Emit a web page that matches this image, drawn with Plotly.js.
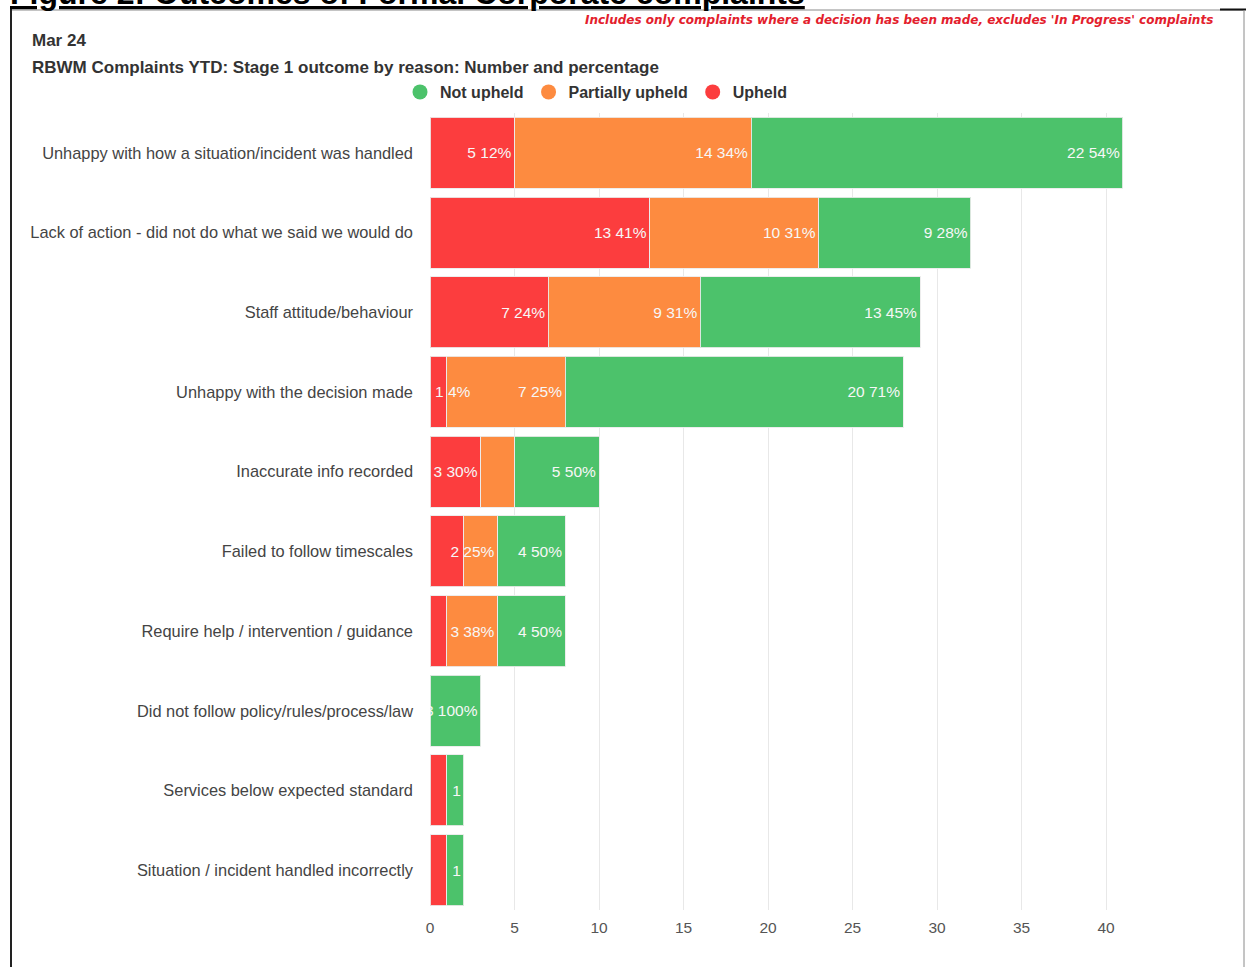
<!DOCTYPE html>
<html>
<head>
<meta charset="utf-8">
<script src="https://cdn.plot.ly/plotly-3.0.1.min.js"></script>
<style>
  html, body { margin: 0; padding: 0; background: #ffffff; }
  #chart { width: 1246px; height: 967px; }
</style>
</head>
<body>
<div id="chart"></div>
<script>
// ---------- data ----------
const categories = [
  "Unhappy with how a situation/incident was handled",
  "Lack of action - did not do what we said we would do",
  "Staff attitude/behaviour",
  "Unhappy with the decision made",
  "Inaccurate info recorded",
  "Failed to follow timescales",
  "Require help / intervention / guidance",
  "Did not follow policy/rules/process/law",
  "Services below expected standard",
  "Situation / incident handled incorrectly"
];
const upheld          = [5, 13, 7, 1, 3, 2, 1, 0, 1, 1];
const partiallyUpheld = [14, 10, 9, 7, 2, 2, 3, 0, 0, 0];
const notUpheld       = [22, 9, 13, 20, 5, 4, 4, 3, 1, 1];

const upheldLabels    = ["5 12%", "13 41%", "7 24%", "", "3 30%", "", "", "", "", ""];
const partialLabels   = ["14 34%", "10 31%", "9 31%", "7 25%", "", "2 25%", "3 38%", "", "", ""];
const notUpheldLabels = ["22 54%", "9 28%", "13 45%", "20 71%", "5 50%", "4 50%", "4 50%", "3 100%", "1", "1"];
const overflowLabel   = {category: "Unhappy with the decision made", text: "1 4%"};

const xTicks = [0, 5, 10, 15, 20, 25, 30, 35, 40];

const figureHeading = "Figure 2: Outcomes of Formal Corporate complaints";
const noteText = "Includes only complaints where a decision has been made, excludes 'In Progress' complaints";
const periodText = "Mar 24";
const chartTitle = "RBWM Complaints YTD: Stage 1 outcome by reason: Number and percentage";

// ---------- styling ----------
const COLORS = {"Upheld": "#fc3d3e", "Partially upheld": "#fd8b40", "Not upheld": "#4cc26b"};
const FONT = "'Liberation Sans', Arial, sans-serif";
const W = 1246, H = 967;
const M = {l: 430, r: 98, t: 113, b: 57};
const PW = W - M.l - M.r, PH = H - M.t - M.b;
const xp = px => (px - M.l) / PW;
const yp = py => (H - M.b - py) / PH;

function barTrace(name, values, labels) {
  return {
    type: 'bar', orientation: 'h', name: name,
    y: categories, x: values,
    text: labels, textposition: 'inside', insidetextanchor: 'end',
    textfont: {family: FONT, size: 15.5, color: '#f7f7f7'},
    textangle: 0, constraintext: 'none',
    marker: {color: COLORS[name], line: {color: 'rgba(235,235,235,0.9)', width: 1}},
    showlegend: false, hoverinfo: 'x+y+name'
  };
}
function legendTrace(name) {
  return {
    type: 'scatter', mode: 'markers', name: name,
    x: [null], y: [null],
    marker: {color: COLORS[name], size: 15, symbol: 'circle'},
    showlegend: true
  };
}

const data = [
  barTrace("Upheld", upheld, upheldLabels),
  barTrace("Partially upheld", partiallyUpheld, partialLabels),
  barTrace("Not upheld", notUpheld, notUpheldLabels),
  legendTrace("Not upheld"),
  legendTrace("Partially upheld"),
  legendTrace("Upheld")
];

const layout = {
  width: W, height: H,
  margin: M,
  paper_bgcolor: '#ffffff', plot_bgcolor: '#ffffff',
  barmode: 'stack', bargap: 0.11,
  font: {family: FONT, size: 15, color: '#444'},
  uniformtext: {mode: 'show', minsize: 15.5},
  xaxis: {
    range: [0, PW / 16.9], tickvals: xTicks, ticktext: xTicks.map(String),
    showgrid: true, gridcolor: '#e8e8e8', gridwidth: 1,
    zeroline: false, showline: false, ticks: '', ticklabelstandoff: 6,
    tickfont: {family: FONT, size: 15.5, color: '#555'}, fixedrange: true
  },
  yaxis: {
    type: 'category', categoryorder: 'array', categoryarray: categories,
    autorange: 'reversed', showgrid: false, zeroline: false, showline: false,
    ticks: '', ticklabelstandoff: 16,
    tickfont: {family: FONT, size: 16.4, color: '#444'}, fixedrange: true
  },
  legend: {
    orientation: 'h', x: xp(596), xanchor: 'center', y: yp(92), yanchor: 'middle',
    font: {family: FONT, size: 16, color: '#333', weight: 'bold'},
    bgcolor: 'rgba(0,0,0,0)', traceorder: 'normal', itemwidth: 30
  },
  annotations: [
    {xref: 'paper', yref: 'paper', x: xp(8), y: yp(-7), xanchor: 'left', yanchor: 'middle',
     text: '<u>' + figureHeading + '</u>', showarrow: false,
     font: {family: FONT, size: 32, color: '#000', weight: 'bold'}},
    {xref: 'paper', yref: 'paper', x: xp(1215), y: yp(20), xanchor: 'right', yanchor: 'middle',
     text: '<b><i>' + noteText + '</i></b>', showarrow: false,
     font: {family: "'DejaVu Sans', Verdana, sans-serif", size: 12, color: '#e3202c'}},
    {xref: 'paper', yref: 'paper', x: xp(30), y: yp(41), xanchor: 'left', yanchor: 'middle',
     text: '<b>' + periodText + '</b>', showarrow: false,
     font: {family: FONT, size: 17, color: '#333'}},
    {xref: 'paper', yref: 'paper', x: xp(30), y: yp(67), xanchor: 'left', yanchor: 'middle',
     text: '<b>' + chartTitle + '</b>', showarrow: false,
     font: {family: FONT, size: 17, color: '#333'}},
    {xref: 'x', yref: 'y', x: 0, y: overflowLabel.category, xanchor: 'left', yanchor: 'middle',
     xshift: 3, text: overflowLabel.text, showarrow: false,
     font: {family: FONT, size: 15.5, color: '#f7f7f7'}}
  ],
  shapes: [
    {type: 'line', xref: 'paper', yref: 'paper', x0: xp(10), x1: xp(1244), y0: yp(10), y1: yp(10),
     line: {color: '#8a8a8a', width: 1}},
    {type: 'line', xref: 'paper', yref: 'paper', x0: xp(1220), x1: xp(1246), y0: yp(9.5), y1: yp(9.5),
     line: {color: '#111', width: 2}},
    {type: 'line', xref: 'paper', yref: 'paper', x0: xp(11), x1: xp(11), y0: yp(9), y1: yp(970),
     line: {color: '#222', width: 2}},
    {type: 'line', xref: 'paper', yref: 'paper', x0: xp(1244), x1: xp(1244), y0: yp(10), y1: yp(970),
     line: {color: '#8a8a8a', width: 1}}
  ]
};

Plotly.newPlot('chart', data, layout, {displayModeBar: false, staticPlot: true});
</script>
</body>
</html>
